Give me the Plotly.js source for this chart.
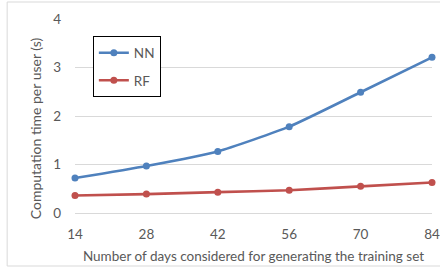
<!DOCTYPE html>
<html>
<head>
<meta charset="utf-8">
<script src="https://cdn.plot.ly/plotly-3.0.1.min.js"></script>
<style>html,body{margin:0;padding:0;background:#fff;}#chart{width:440px;height:268px;}</style>
</head>
<body>
<div id="chart"></div>
<script>
var days = [14, 28, 42, 56, 70, 84];
var nnTime = [0.72, 0.97, 1.27, 1.78, 2.49, 3.21];
var rfTime = [0.36, 0.39, 0.43, 0.47, 0.55, 0.63];
var seriesNames = ["NN", "RF"];
var yTicks = [0, 1, 2, 3, 4];
var xTitle = "Number of days considered for generating the training set";
var yTitle = "Computation time per user (s)";

var FONT = "Lato, 'Open Sans', sans-serif";
var TXT = "#595959";

var traces = [
  {x: days, y: nnTime, name: seriesNames[0], type: "scatter", mode: "lines+markers",
   line: {color: "#4F81BD", width: 2.6, shape: "spline", smoothing: 0.5},
   marker: {color: "#4F81BD", size: 7}, cliponaxis: false, legendgroup: "a"},
  {x: days, y: rfTime, name: seriesNames[1], type: "scatter", mode: "lines+markers",
   line: {color: "#C0504D", width: 2.6, shape: "spline", smoothing: 0.5},
   marker: {color: "#C0504D", size: 7}, cliponaxis: false, legendgroup: "b"}
];

var layout = {
  width: 440, height: 268,
  margin: {l: 75, r: 8, t: 19, b: 55},
  paper_bgcolor: "#fff", plot_bgcolor: "#fff",
  font: {family: FONT, size: 13, color: TXT},
  showlegend: true,
  legend: {x: 0.05, y: 0.91, xanchor: "left", yanchor: "top",
           bordercolor: "#000", borderwidth: 1, bgcolor: "#fff",
           font: {family: FONT, size: 13.5, color: TXT},
           traceorder: "grouped", tracegroupgap: 7},
  xaxis: {range: [14, 84], tickvals: days, ticktext: days.map(String),
          showgrid: false, zeroline: false, showline: false, ticks: "",
          ticklen: 0, ticklabelstandoff: 11, ticklabeloverflow: "allow",
          tickfont: {family: FONT, size: 13.5, color: TXT},
          title: {text: xTitle, font: {family: FONT, size: 13.5, color: TXT}, standoff: 11}},
  yaxis: {range: [0, 4], tickvals: yTicks, showgrid: true, gridcolor: "#D9D9D9",
          gridwidth: 1, zeroline: true, zerolinecolor: "#D9D9D9", zerolinewidth: 1,
          showline: false, ticks: "", ticklabelstandoff: 13,
          tickfont: {family: FONT, size: 13.5, color: TXT}},
  annotations: [{text: yTitle, xref: "paper", yref: "paper", x: -0.1114, y: 0.438,
                 textangle: -90, showarrow: false, xanchor: "center", yanchor: "middle",
                 font: {family: FONT, size: 14, color: TXT}}],
  shapes: [{type: "rect", xref: "paper", yref: "paper", x0: -0.19, x1: 1.2,
            y0: -0.2732, y1: 1.0876, line: {color: "#D9D9D9", width: 1}, layer: "below"}]
};

Plotly.newPlot("chart", traces, layout, {displayModeBar: false, staticPlot: true});
</script>
</body>
</html>
